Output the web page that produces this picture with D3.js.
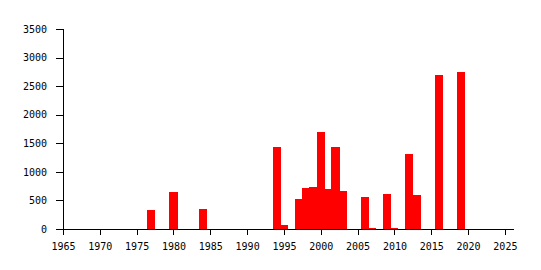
<html>
<head>
<meta charset="utf-8"/>
<script src="https://d3js.org/d3.v7.min.js"></script>
<style>
body { margin: 0; background: #fff; }
.axis text { font-family: "DejaVu Sans Mono", monospace; font-size: 10px; fill: #000; }
.axis path, .axis line { stroke: #000; shape-rendering: crispEdges; }
</style>
</head>
<body>
<div id="chart"></div>
<script>
// years and values
var years  = [1977, 1980, 1984, 1994, 1995, 1997, 1998, 1999, 2000, 2001, 2002, 2003, 2006, 2007, 2009, 2010, 2012, 2013, 2016, 2019];
var values = [340, 655, 355, 1440, 75, 530, 725, 740, 1705, 705, 1440, 670, 565, 15, 620, 15, 1320, 600, 2700, 2755];
var xTicks = [1965, 1970, 1975, 1980, 1985, 1990, 1995, 2000, 2005, 2010, 2015, 2020, 2025];
var yTicks = [0, 500, 1000, 1500, 2000, 2500, 3000, 3500];

var margin = {top: 29, right: 28, bottom: 41, left: 63},
    width = 541 - margin.left - margin.right,
    height = 270 - margin.top - margin.bottom;

var data = years.map(function(y, i) { return {year: y, value: values[i]}; });

var x = d3.scaleLinear().domain([1965, 2026.1]).range([0, width]);
var y = d3.scaleLinear().domain([0, 3500]).range([height, 0]);

var svg = d3.select("#chart").append("svg")
    .attr("width", width + margin.left + margin.right)
    .attr("height", height + margin.top + margin.bottom);

var g = svg.append("g")
    .attr("transform", "translate(" + margin.left + "," + margin.top + ")");

g.append("g").attr("class", "axis")
    .attr("transform", "translate(0," + height + ")")
    .call(d3.axisBottom(x).tickValues(xTicks).tickFormat(d3.format("d")).tickSizeOuter(0).tickPadding(8));

g.append("g").attr("class", "axis")
    .call(d3.axisLeft(y).tickValues(yTicks).tickFormat(d3.format("d")).tickSize(7).tickPadding(9));

g.selectAll(".bar")
    .data(data)
  .enter().append("rect")
    .attr("class", "bar")
    .style("fill", "#ff0000")
    .attr("shape-rendering", "crispEdges")
    .attr("x", function(d) { return x(d.year - 0.55); })
    .attr("width", function(d) { return x(d.year + 0.55) - x(d.year - 0.55); })
    .attr("y", function(d) { return y(d.value); })
    .attr("height", function(d) { return height - y(d.value); });
</script>
</body>
</html>
